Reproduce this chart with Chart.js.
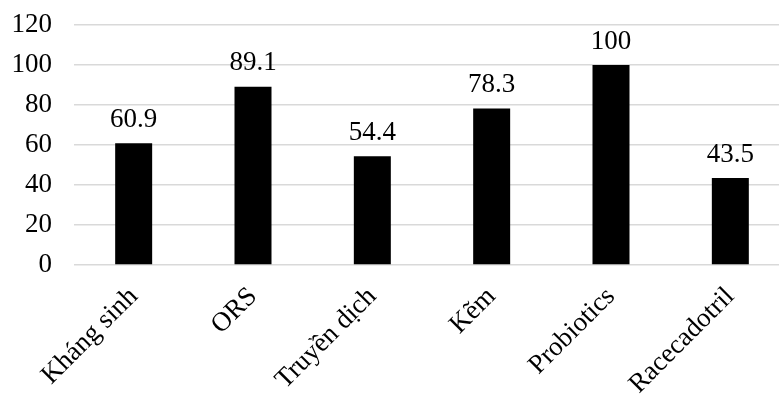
<!DOCTYPE html>
<html>
<head>
<meta charset="utf-8">
<script src="https://cdn.jsdelivr.net/npm/chart.js@4/dist/chart.umd.min.js"></script>
<style>
  html, body { margin:0; padding:0; background:#fff; overflow:hidden; }
  #wrap { width:779px; height:397px; overflow:hidden; }
</style>
</head>
<body>
<div id="wrap"><canvas id="c" width="790" height="397"></canvas></div>
<script>
/* dados */
const categories = ["Kháng sinh", "ORS", "Truyền dịch", "Kẽm", "Probiotics", "Racecadotril"];
const values     = [60.9, 89.1, 54.4, 78.3, 100, 43.5];
const yTicks     = [0, 20, 40, 60, 80, 100, 120];

const FONT = "'Liberation Serif', 'Times New Roman', serif";
Chart.defaults.font.family = FONT;
Chart.defaults.color = '#000';

// rótulos por cima das barras
const barLabels = {
  id: 'barLabels',
  afterDatasetsDraw(chart){
    const ctx = chart.ctx;
    const meta = chart.getDatasetMeta(0);
    ctx.save();
    ctx.font = `27px ${FONT}`;
    ctx.fillStyle = '#000';
    ctx.textAlign = 'center';
    ctx.textBaseline = 'bottom';
    meta.data.forEach((bar, i) => {
      ctx.fillText(String(values[i]), bar.x, bar.y - 10);
    });
    ctx.restore();
  }
};

new Chart(document.getElementById('c'), {
  type: 'bar',
  data: {
    labels: categories,
    datasets: [{
      data: values,
      backgroundColor: '#000',
      borderColor: '#000',
      borderWidth: 0,
      categoryPercentage: 1,
      barPercentage: 0.31
    }]
  },
  options: {
    responsive: false,
    animation: false,
    layout: { padding: { top: 25, right: 0, left: 0, bottom: 0 } },
    plugins: { legend: { display: false }, tooltip: { enabled: false } },
    scales: {
      x: {
        grid: { display: false },
        border: { display: false },
        ticks: { font: { size: 27 }, maxRotation: 45, minRotation: 45, padding: 8 },
        afterFit: a => { a.height = 132; a.paddingLeft = 0; a.paddingRight = 0; }
      },
      y: {
        min: 0, max: 120,
        afterBuildTicks: a => { a.ticks = yTicks.map(v => ({ value: v })); },
        grid: { color: '#d9d9d9', lineWidth: 1.5, drawTicks: false },
        border: { display: false },
        ticks: { font: { size: 27 }, padding: 22 },
        afterFit: a => { a.width = 74; a.paddingTop = 0; a.paddingBottom = 0; }
      }
    }
  },
  plugins: [barLabels]
});
</script>
</body>
</html>
